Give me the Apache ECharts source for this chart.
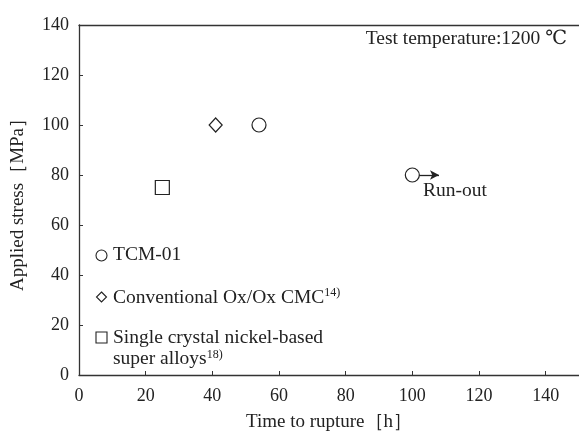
<!DOCTYPE html>
<html>
<head>
<meta charset="utf-8">
<script src="https://cdn.jsdelivr.net/npm/echarts@6/dist/echarts.min.js"></script>
<style>
html,body{margin:0;padding:0;background:#fff;}
#main{width:579px;height:435px;}
</style>
</head>
<body>
<div id="main"></div>
<script>
// data
var tcmData = [[54, 100], [100, 80]];
var oxoxData = [[41, 100]];
var nickelData = [[25, 75]];
var runOut = [[100, 80], [108, 80]];
var xTicks = [0, 20, 40, 60, 80, 100, 120, 140];
var yTicks = [0, 20, 40, 60, 80, 100, 120, 140];

var font = '"Liberation Serif", "DejaVu Serif", serif';
var ink = '#222';

var myChart = echarts.init(document.getElementById('main'));

function markerSeries(name, symbol, size, data) {
    return {
        name: name,
        type: 'scatter',
        symbol: symbol,
        symbolSize: size,
        data: data,
        itemStyle: { color: '#fff', borderColor: ink, borderWidth: 1.2, opacity: 1 },
        z: 5
    };
}

var tcm = markerSeries('TCM-01', 'circle', 14, tcmData);
tcm.markLine = {
    silent: true,
    symbol: ['none', 'arrow'],
    symbolSize: [7, 9],
    lineStyle: { color: ink, type: 'solid', width: 1.3 },
    label: { show: false },
    data: [[{ coord: runOut[0] }, { coord: runOut[1] }]],
    animation: false
};

var sup = { fontFamily: font, fontSize: 12, color: ink, verticalAlign: 'top', lineHeight: 13, padding: [0, 0, 7, 0] };
var txt = { fontFamily: font, fontSize: 19.5, color: ink, lineHeight: 21 };

var option = {
    animation: false,
    grid: { left: 79, right: 0, top: 25, bottom: 60, containLabel: false, outerBoundsMode: 'none' },
    xAxis: [{
        type: 'value',
        min: 0,
        max: 150,
        interval: 20,
        name: 'Time to rupture［h］',
        nameLocation: 'middle',
        nameGap: 38,
        nameTextStyle: { fontFamily: font, fontSize: 19, color: ink },
        axisLine: { show: true, lineStyle: { color: '#333', width: 1.3 } },
        axisTick: { show: true, inside: true, length: 4, lineStyle: { color: '#333' } },
        axisLabel: {
            fontFamily: font, fontSize: 18, color: ink, margin: 12,
            formatter: function (v) { return xTicks.indexOf(v) >= 0 ? String(v) : ''; }
        },
        splitLine: { show: false }
    }, {
        type: 'value',
        position: 'top',
        min: 0,
        max: 150,
        axisLine: { show: true, lineStyle: { color: '#333', width: 1.3 } },
        axisTick: { show: false },
        axisLabel: { show: false },
        splitLine: { show: false }
    }],
    yAxis: {
        type: 'value',
        min: 0,
        max: 140,
        interval: 20,
        name: 'Applied stress［MPa］',
        nameLocation: 'middle',
        nameGap: 51,
        nameTextStyle: { fontFamily: font, fontSize: 19, color: ink },
        axisLine: { show: true, lineStyle: { color: '#333', width: 1.3 } },
        axisTick: { show: true, inside: true, length: 4, lineStyle: { color: '#333' } },
        axisLabel: {
            fontFamily: font, fontSize: 18, color: ink, margin: 10,
            formatter: function (v) { return yTicks.indexOf(v) >= 0 ? String(v) : ''; }
        },
        splitLine: { show: false }
    },
    graphic: [
        {
            type: 'text', right: 12, top: 29,
            style: { text: 'Test temperature:1200 ℃', font: '19.5px ' + font, fill: ink }
        },
        {
            type: 'text', left: 423, top: 181,
            style: { text: 'Run-out', font: '19.5px ' + font, fill: ink }
        },
        // legend entries
        {
            type: 'circle', shape: { cx: 101.5, cy: 255.5, r: 5.5 },
            style: { fill: '#fff', stroke: ink, lineWidth: 1.1 }
        },
        {
            type: 'text', left: 113, top: 245,
            style: { text: '{a|TCM-01}', fill: ink, rich: { a: txt } }
        },
        {
            type: 'polygon', shape: { points: [[101.5, 292], [106.5, 297], [101.5, 302], [96.5, 297]] },
            style: { fill: '#fff', stroke: ink, lineWidth: 1.1 }
        },
        {
            type: 'text', left: 113, top: 287,
            style: { text: '{a|Conventional Ox/Ox CMC}{s|14)}', fill: ink, rich: { a: txt, s: sup } }
        },
        {
            type: 'rect', shape: { x: 96, y: 332, width: 11, height: 11 },
            style: { fill: '#fff', stroke: ink, lineWidth: 1.1 }
        },
        {
            type: 'text', left: 113, top: 328,
            style: {
                text: '{a|Single crystal nickel-based}\n{a|super alloys}{s|18)}',
                fill: ink,
                rich: { a: txt, s: sup }
            }
        }
    ],
    series: [
        tcm,
        markerSeries('Conventional Ox/Ox CMC', 'diamond', [13, 14], oxoxData),
        markerSeries('Single crystal nickel-based super alloys', 'rect', 14, nickelData)
    ]
};
myChart.setOption(option);
</script>
</body>
</html>
